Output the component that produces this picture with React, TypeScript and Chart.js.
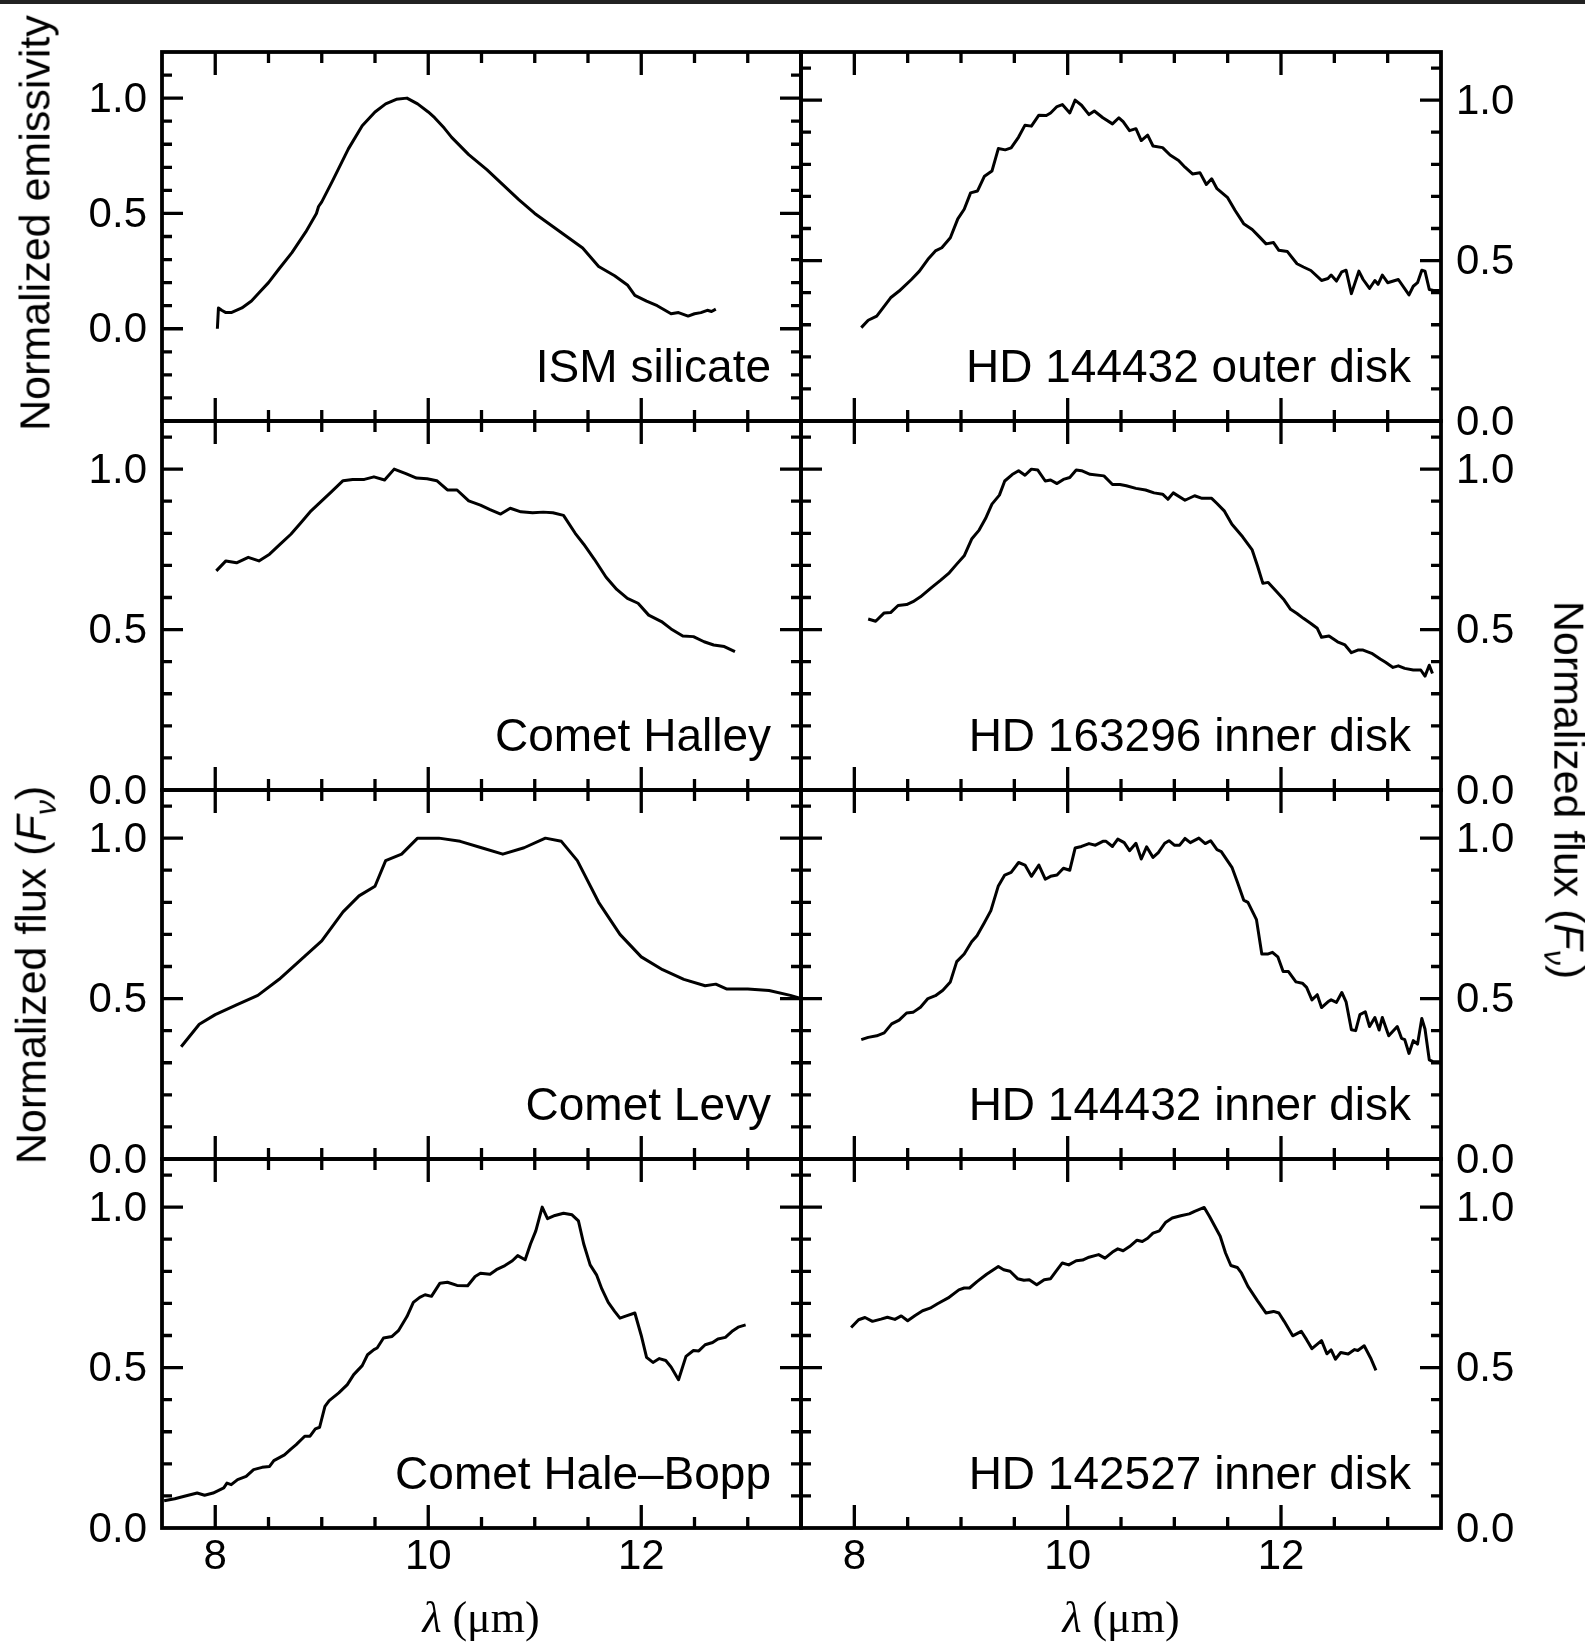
import React, { useEffect, useRef } from 'react';
import { Chart, registerables } from 'chart.js';

Chart.register(...registerables);

// ---------------- data ----------------
const ismWave = [8.02, 8.03, 8.06, 8.1, 8.15, 8.25, 8.34, 8.42, 8.5, 8.6, 8.72, 8.85, 8.95, 8.97, 9.0, 9.1, 9.25, 9.38, 9.5, 9.6, 9.7, 9.8, 9.9, 10.0, 10.06, 10.15, 10.22, 10.38, 10.55, 10.7, 10.85, 11.0, 11.15, 11.3, 11.45, 11.6, 11.75, 11.87, 11.94, 12.05, 12.15, 12.28, 12.35, 12.44, 12.5, 12.56, 12.62, 12.66, 12.7];
const ismValue = [0.0, 0.09, 0.08, 0.07, 0.07, 0.09, 0.12, 0.16, 0.2, 0.26, 0.33, 0.42, 0.5, 0.53, 0.55, 0.64, 0.78, 0.88, 0.94, 0.975, 0.995, 1.0, 0.975, 0.94, 0.915, 0.87, 0.83, 0.755, 0.69, 0.625, 0.56, 0.5, 0.45, 0.4, 0.35, 0.27, 0.23, 0.19, 0.145, 0.12, 0.1, 0.065, 0.07, 0.055, 0.065, 0.07, 0.08, 0.075, 0.085];

const hd144432OuterWave = [8.065, 8.13, 8.21, 8.34, 8.42, 8.535, 8.61, 8.69, 8.76, 8.82, 8.9, 8.97, 9.03, 9.09, 9.155, 9.22, 9.29, 9.35, 9.415, 9.47, 9.54, 9.6, 9.66, 9.73, 9.8, 9.84, 9.9, 9.95, 10.02, 10.07, 10.13, 10.2, 10.25, 10.33, 10.42, 10.48, 10.52, 10.58, 10.64, 10.69, 10.75, 10.8, 10.89, 10.96, 11.04, 11.1, 11.17, 11.24, 11.3, 11.35, 11.4, 11.5, 11.57, 11.65, 11.73, 11.8, 11.86, 11.93, 11.98, 12.06, 12.15, 12.21, 12.28, 12.38, 12.44, 12.47, 12.52, 12.57, 12.61, 12.66, 12.73, 12.77, 12.83, 12.88, 12.91, 12.95, 13.0, 13.1, 13.2, 13.24, 13.28, 13.32, 13.35, 13.39, 13.43, 13.49];
const hd144432OuterValue = [0.291, 0.314, 0.327, 0.384, 0.405, 0.441, 0.467, 0.504, 0.53, 0.54, 0.571, 0.63, 0.66, 0.711, 0.717, 0.763, 0.779, 0.849, 0.845, 0.851, 0.885, 0.922, 0.919, 0.953, 0.952, 0.96, 0.98, 0.986, 0.96, 1.0, 0.984, 0.955, 0.966, 0.945, 0.926, 0.945, 0.933, 0.905, 0.911, 0.874, 0.891, 0.857, 0.852, 0.829, 0.812, 0.791, 0.77, 0.774, 0.737, 0.755, 0.724, 0.696, 0.656, 0.615, 0.597, 0.573, 0.552, 0.556, 0.532, 0.528, 0.49, 0.48, 0.469, 0.438, 0.444, 0.455, 0.436, 0.465, 0.47, 0.397, 0.467, 0.441, 0.413, 0.438, 0.426, 0.455, 0.431, 0.441, 0.393, 0.42, 0.431, 0.47, 0.467, 0.41, 0.407, 0.407];

const halleyWave = [8.01, 8.1, 8.2, 8.31, 8.41, 8.51, 8.61, 8.71, 8.8, 8.9, 8.99, 9.09, 9.2, 9.29, 9.4, 9.49, 9.59, 9.68, 9.79, 9.89, 9.99, 10.08, 10.18, 10.27, 10.38, 10.49, 10.58, 10.68, 10.77, 10.87, 10.98, 11.08, 11.17, 11.27, 11.38, 11.46, 11.56, 11.67, 11.77, 11.87, 11.97, 12.07, 12.19, 12.28, 12.39, 12.49, 12.59, 12.68, 12.78, 12.88];
const halleyValue = [0.683, 0.714, 0.708, 0.725, 0.714, 0.735, 0.766, 0.797, 0.831, 0.87, 0.898, 0.929, 0.964, 0.968, 0.968, 0.976, 0.966, 1.0, 0.986, 0.972, 0.97, 0.964, 0.935, 0.935, 0.901, 0.888, 0.874, 0.86, 0.878, 0.867, 0.864, 0.866, 0.864, 0.856, 0.8, 0.766, 0.719, 0.663, 0.625, 0.597, 0.582, 0.545, 0.525, 0.502, 0.48, 0.478, 0.462, 0.452, 0.447, 0.431];

const hd163296Wave = [8.13, 8.2, 8.28, 8.34, 8.41, 8.49, 8.55, 8.62, 8.72, 8.81, 8.89, 8.96, 9.03, 9.1, 9.17, 9.23, 9.29, 9.36, 9.41, 9.48, 9.54, 9.6, 9.66, 9.72, 9.79, 9.84, 9.9, 9.96, 10.02, 10.08, 10.13, 10.21, 10.34, 10.42, 10.49, 10.55, 10.64, 10.73, 10.81, 10.89, 10.94, 10.99, 11.1, 11.19, 11.26, 11.35, 11.4, 11.47, 11.54, 11.64, 11.73, 11.78, 11.83, 11.88, 11.96, 12.03, 12.09, 12.15, 12.21, 12.28, 12.34, 12.38, 12.45, 12.53, 12.6, 12.66, 12.72, 12.77, 12.85, 12.93, 12.98, 13.05, 13.1, 13.16, 13.24, 13.31, 13.35, 13.39, 13.42];
const hd163296Value = [0.533, 0.526, 0.552, 0.553, 0.575, 0.578, 0.587, 0.602, 0.63, 0.654, 0.677, 0.704, 0.73, 0.782, 0.81, 0.846, 0.891, 0.919, 0.963, 0.983, 0.995, 0.981, 1.0, 0.997, 0.963, 0.966, 0.955, 0.968, 0.974, 0.997, 0.995, 0.984, 0.979, 0.952, 0.952, 0.948, 0.94, 0.935, 0.926, 0.922, 0.906, 0.926, 0.903, 0.917, 0.909, 0.909, 0.893, 0.869, 0.828, 0.789, 0.748, 0.698, 0.644, 0.647, 0.618, 0.592, 0.563, 0.55, 0.535, 0.519, 0.504, 0.476, 0.48, 0.462, 0.452, 0.428, 0.436, 0.436, 0.426, 0.408, 0.398, 0.382, 0.387, 0.379, 0.374, 0.374, 0.355, 0.389, 0.363];

const levyWave = [7.68, 7.85, 8.0, 8.2, 8.4, 8.6, 8.8, 9.0, 9.2, 9.35, 9.5, 9.6, 9.75, 9.9, 10.1, 10.3, 10.5, 10.7, 10.9, 11.1, 11.25, 11.4, 11.6, 11.8, 12.0, 12.2, 12.4, 12.6, 12.7, 12.8, 13.0, 13.2, 13.4, 13.5];
const levyValue = [0.35, 0.42, 0.45, 0.48, 0.51, 0.56, 0.62, 0.68, 0.77, 0.82, 0.85, 0.93, 0.95, 1.0, 1.0, 0.99, 0.97, 0.95, 0.97, 1.0, 0.99, 0.93, 0.8, 0.7, 0.63, 0.59, 0.56, 0.54, 0.545, 0.53, 0.53, 0.525, 0.51, 0.5];

const hd144432InnerWave = [8.065, 8.13, 8.21, 8.28, 8.35, 8.42, 8.49, 8.55, 8.62, 8.69, 8.76, 8.83, 8.9, 8.96, 9.03, 9.1, 9.15, 9.22, 9.28, 9.35, 9.41, 9.47, 9.54, 9.6, 9.66, 9.73, 9.79, 9.84, 9.9, 9.96, 10.02, 10.07, 10.13, 10.2, 10.26, 10.33, 10.36, 10.42, 10.47, 10.53, 10.58, 10.64, 10.69, 10.74, 10.8, 10.85, 10.91, 10.95, 11.0, 11.05, 11.1, 11.15, 11.23, 11.29, 11.34, 11.4, 11.44, 11.54, 11.59, 11.65, 11.69, 11.74, 11.77, 11.82, 11.88, 11.92, 11.97, 12.02, 12.07, 12.14, 12.2, 12.24, 12.29, 12.34, 12.38, 12.44, 12.47, 12.52, 12.57, 12.61, 12.66, 12.7, 12.74, 12.79, 12.83, 12.88, 12.92, 12.95, 13.01, 13.09, 13.13, 13.16, 13.2, 13.24, 13.28, 13.32, 13.35, 13.39, 13.43, 13.49];
const hd144432InnerValue = [0.372, 0.379, 0.384, 0.393, 0.421, 0.433, 0.455, 0.457, 0.473, 0.5, 0.509, 0.526, 0.552, 0.615, 0.639, 0.677, 0.696, 0.737, 0.774, 0.851, 0.885, 0.893, 0.924, 0.916, 0.881, 0.916, 0.872, 0.881, 0.885, 0.906, 0.9, 0.969, 0.974, 0.983, 0.978, 0.99, 0.99, 0.974, 0.997, 0.986, 0.961, 0.984, 0.935, 0.973, 0.94, 0.955, 0.984, 0.992, 0.978, 0.978, 0.999, 0.986, 1.0, 0.983, 0.992, 0.964, 0.958, 0.909, 0.864, 0.807, 0.8, 0.766, 0.746, 0.639, 0.639, 0.644, 0.63, 0.584, 0.584, 0.552, 0.548, 0.535, 0.496, 0.512, 0.472, 0.49, 0.496, 0.488, 0.519, 0.49, 0.403, 0.4, 0.45, 0.459, 0.413, 0.441, 0.402, 0.441, 0.384, 0.413, 0.376, 0.372, 0.329, 0.369, 0.358, 0.438, 0.405, 0.309, 0.303, 0.303];

const haleBoppWave = [7.52, 7.62, 7.71, 7.83, 7.9, 7.98, 8.08, 8.11, 8.15, 8.21, 8.29, 8.36, 8.44, 8.51, 8.55, 8.65, 8.71, 8.76, 8.84, 8.89, 8.94, 8.98, 9.03, 9.07, 9.16, 9.24, 9.3, 9.38, 9.43, 9.49, 9.52, 9.58, 9.66, 9.72, 9.8, 9.86, 9.92, 9.97, 10.03, 10.11, 10.18, 10.27, 10.37, 10.44, 10.49, 10.58, 10.64, 10.72, 10.79, 10.84, 10.91, 10.96, 11.01, 11.07, 11.12, 11.19, 11.27, 11.35, 11.41, 11.46, 11.52, 11.58, 11.63, 11.69, 11.75, 11.8, 11.86, 11.94, 12.0, 12.05, 12.11, 12.17, 12.23, 12.28, 12.35, 12.42, 12.49, 12.54, 12.6, 12.67, 12.72, 12.79, 12.86, 12.91, 12.98];
const haleBoppValue = [0.085, 0.091, 0.099, 0.109, 0.102, 0.109, 0.125, 0.14, 0.135, 0.151, 0.161, 0.182, 0.189, 0.192, 0.21, 0.228, 0.246, 0.26, 0.286, 0.286, 0.309, 0.314, 0.379, 0.397, 0.421, 0.447, 0.478, 0.506, 0.54, 0.556, 0.561, 0.592, 0.597, 0.615, 0.659, 0.703, 0.719, 0.727, 0.722, 0.763, 0.766, 0.756, 0.755, 0.784, 0.794, 0.791, 0.805, 0.818, 0.833, 0.849, 0.836, 0.885, 0.926, 1.0, 0.964, 0.974, 0.981, 0.976, 0.957, 0.885, 0.82, 0.789, 0.745, 0.703, 0.675, 0.654, 0.661, 0.67, 0.6, 0.532, 0.516, 0.528, 0.522, 0.502, 0.462, 0.535, 0.553, 0.552, 0.571, 0.578, 0.589, 0.594, 0.615, 0.626, 0.633];

const hd142527Wave = [7.97, 8.04, 8.1, 8.17, 8.25, 8.31, 8.38, 8.44, 8.5, 8.57, 8.64, 8.71, 8.78, 8.88, 8.98, 9.03, 9.08, 9.15, 9.24, 9.35, 9.4, 9.46, 9.53, 9.59, 9.64, 9.71, 9.78, 9.84, 9.89, 9.95, 10.01, 10.08, 10.14, 10.2, 10.29, 10.35, 10.42, 10.47, 10.52, 10.58, 10.65, 10.7, 10.75, 10.8, 10.86, 10.92, 10.98, 11.06, 11.14, 11.19, 11.28, 11.33, 11.43, 11.48, 11.53, 11.59, 11.63, 11.69, 11.78, 11.86, 11.93, 11.98, 12.03, 12.11, 12.19, 12.24, 12.29, 12.38, 12.43, 12.47, 12.51, 12.56, 12.63, 12.69, 12.72, 12.78, 12.84, 12.89];
const hd142527Value = [0.625, 0.649, 0.656, 0.644, 0.651, 0.657, 0.65, 0.661, 0.646, 0.662, 0.677, 0.685, 0.699, 0.717, 0.742, 0.748, 0.748, 0.768, 0.791, 0.815, 0.805, 0.8, 0.777, 0.772, 0.774, 0.758, 0.774, 0.777, 0.8, 0.826, 0.82, 0.833, 0.835, 0.844, 0.852, 0.841, 0.86, 0.87, 0.864, 0.877, 0.897, 0.893, 0.903, 0.919, 0.926, 0.953, 0.966, 0.973, 0.979, 0.987, 0.999, 0.971, 0.909, 0.857, 0.818, 0.812, 0.794, 0.753, 0.708, 0.67, 0.675, 0.67, 0.644, 0.599, 0.613, 0.587, 0.559, 0.584, 0.543, 0.555, 0.526, 0.547, 0.542, 0.556, 0.553, 0.568, 0.53, 0.491];

const xMajorTicks = [8, 10, 12];
const xMinorTicks = [8.5, 9, 9.5, 10.5, 11, 11.5, 12.5, 13];
const yMajorTicks = [0, 0.5, 1.0];
const fluxMinorTicks = [0.1, 0.2, 0.3, 0.4, 0.6, 0.7, 0.8, 0.9, 1.1];
const emissivityMinorTicks = [-0.3, -0.2, -0.1, 0.1, 0.2, 0.3, 0.4, 0.6, 0.7, 0.8, 0.9, 1.1];
const xRange = [7.5, 13.5];
const fluxRange = [0, 1.15];
const emissivityRange = [-0.4, 1.2];

const panelLabels = [
  'ISM silicate', 'HD 144432 outer disk',
  'Comet Halley', 'HD 163296 inner disk',
  'Comet Levy', 'HD 144432 inner disk',
  'Comet Hale–Bopp', 'HD 142527 inner disk',
];

const panelSeries = [
  [ismWave, ismValue], [hd144432OuterWave, hd144432OuterValue],
  [halleyWave, halleyValue], [hd163296Wave, hd163296Value],
  [levyWave, levyValue], [hd144432InnerWave, hd144432InnerValue],
  [haleBoppWave, haleBoppValue], [hd142527Wave, hd142527Value],
];

// ---------------- layout ----------------
const COLS = [162, 801, 1441];
const ROWS = [52, 421, 790, 1159, 1528];
const SIDE = 170;
const VPAD = 50;
const XAXIS_H = 75;
const SANS = '"Liberation Sans", Arial, Helvetica, sans-serif';
const SERIF = '"Liberation Serif", "Times New Roman", serif';

const frameTicksPlugin = {
  id: 'frameTicks',
  afterDatasetsDraw(chart: any, _args: any, opts: any) {
    const { ctx, chartArea: a, scales } = chart;
    const xs = scales.x;
    const ys = scales.y;
    ctx.save();
    ctx.strokeStyle = '#000';
    ctx.lineCap = 'butt';
    ctx.lineWidth = 3.3;
    const drawX = (vals: number[], len: number) => {
      for (const v of vals) {
        const px = xs.getPixelForValue(v);
        ctx.beginPath();
        ctx.moveTo(px, a.top);
        ctx.lineTo(px, a.top + len);
        ctx.moveTo(px, a.bottom);
        ctx.lineTo(px, a.bottom - len);
        ctx.stroke();
      }
    };
    const drawY = (vals: number[], len: number) => {
      for (const v of vals) {
        const py = ys.getPixelForValue(v);
        ctx.beginPath();
        ctx.moveTo(a.left, py);
        ctx.lineTo(a.left + len, py);
        ctx.moveTo(a.right, py);
        ctx.lineTo(a.right - len, py);
        ctx.stroke();
      }
    };
    drawX(xMajorTicks, 23);
    drawX(xMinorTicks, 11);
    drawY(yMajorTicks.filter((v) => v > ys.min && v < ys.max), 21);
    drawY(opts.yMinor, 10);
    ctx.lineWidth = 3.8;
    ctx.strokeRect(a.left, a.top, a.right - a.left, a.bottom - a.top);
    ctx.fillStyle = '#000';
    ctx.font = `46px ${SANS}`;
    ctx.textAlign = 'right';
    ctx.textBaseline = 'alphabetic';
    ctx.fillText(opts.label, a.right - 30, a.bottom - 39);
    ctx.restore();
  },
};

type PanelProps = { index: number };

function Panel({ index }: PanelProps) {
  const ref = useRef<HTMLCanvasElement | null>(null);
  const col = index % 2;
  const row = Math.floor(index / 2);
  const panelL = COLS[col];
  const panelR = COLS[col + 1];
  const panelT = ROWS[row];
  const panelB = ROWS[row + 1];
  const isBottom = row === 3;
  const left = panelL - SIDE;
  const top = panelT - VPAD;
  const width = panelR - panelL + 2 * SIDE;
  const height = panelB - panelT + VPAD + (isBottom ? XAXIS_H : VPAD);

  useEffect(() => {
    const canvas = ref.current;
    if (!canvas) return;
    const [wave, value] = panelSeries[index];
    const yRange = index === 0 ? emissivityRange : fluxRange;
    const yMinor = index === 0 ? emissivityMinorTicks : fluxMinorTicks;
    const chart = new Chart(canvas, {
      type: 'line',
      data: {
        datasets: [
          {
            data: wave.map((x, i) => ({ x, y: value[i] })),
            borderColor: '#000',
            borderWidth: 3,
            borderJoinStyle: 'round',
            pointRadius: 0,
            tension: 0,
            fill: false,
          },
        ],
      },
      options: {
        responsive: false,
        animation: false,
        devicePixelRatio: 1,
        events: [],
        layout: {
          autoPadding: false,
          padding: {
            left: col === 0 ? 0 : SIDE,
            right: col === 1 ? 0 : SIDE,
            top: VPAD,
            bottom: isBottom ? 0 : VPAD,
          },
        },
        plugins: {
          legend: { display: false },
          tooltip: { enabled: false },
          title: { display: false },
          frameTicks: { label: panelLabels[index], yMinor },
        } as any,
        scales: {
          x: {
            type: 'linear',
            min: xRange[0],
            max: xRange[1],
            display: isBottom,
            position: 'bottom',
            grid: { display: false, drawTicks: false },
            border: { display: false },
            afterBuildTicks: (s: any) => {
              s.ticks = xMajorTicks.map((v) => ({ value: v }));
            },
            afterFit: (s: any) => {
              if (isBottom) s.height = XAXIS_H;
            },
            ticks: {
              autoSkip: false,
              maxRotation: 0,
              padding: 4,
              color: '#000',
              font: { family: SANS, size: 42 },
              callback: (v: any) => String(v),
            },
          },
          y: {
            type: 'linear',
            min: yRange[0],
            max: yRange[1],
            display: true,
            position: col === 0 ? 'left' : 'right',
            grid: { display: false, drawTicks: false },
            border: { display: false },
            afterBuildTicks: (s: any) => {
              s.ticks = yMajorTicks.map((v) => ({ value: v }));
            },
            afterFit: (s: any) => {
              s.width = SIDE;
            },
            ticks: {
              padding: 15,
              labelOffset: 2,
              color: '#000',
              font: { family: SANS, size: 42 },
              callback: (v: any) => Number(v).toFixed(1),
            },
          },
        },
      },
      plugins: [frameTicksPlugin],
    } as any);
    return () => chart.destroy();
  }, [index]);

  return (
    <canvas
      ref={ref}
      width={width}
      height={height}
      style={{ position: 'absolute', left, top, width, height }}
    />
  );
}

export default function App() {
  const titleStyle: React.CSSProperties = {
    position: 'absolute',
    fontFamily: SANS,
    fontSize: 43,
    lineHeight: 1,
    whiteSpace: 'nowrap',
    color: '#000',
  };
  const xTitleStyle: React.CSSProperties = {
    position: 'absolute',
    fontFamily: SERIF,
    fontSize: 44,
    lineHeight: 1,
    whiteSpace: 'nowrap',
    color: '#000',
    transform: 'translate(-50%, -50%)',
  };
  return (
    <div
      style={{
        position: 'absolute',
        left: 0,
        top: 0,
        width: 1585,
        height: 1644,
        background: '#fff',
        overflow: 'hidden',
      }}
    >
      <div style={{ position: 'absolute', left: 0, top: 0, width: 1585, height: 4, background: '#222' }} />
      {panelLabels.map((_, i) => (
        <Panel key={i} index={i} />
      ))}
      <div style={{ ...titleStyle, left: 35, top: 223, transform: 'translate(-50%, -50%) rotate(-90deg)' }}>
        Normalized emissivity
      </div>
      <div style={{ ...titleStyle, left: 35, top: 975, transform: 'translate(-50%, -50%) rotate(-90deg)' }}>
        Normalized flux (<i>F</i>
        <sub style={{ fontSize: '0.7em', fontStyle: 'italic' }}>ν</sub>)
      </div>
      <div style={{ ...titleStyle, left: 1565, top: 790, transform: 'translate(-50%, -50%) rotate(90deg)' }}>
        Normalized flux (<i>F</i>
        <sub style={{ fontSize: '0.7em', fontStyle: 'italic' }}>ν</sub>)
      </div>
      <div style={{ ...xTitleStyle, left: 481, top: 1618 }}>
        <i>λ</i> (μm)
      </div>
      <div style={{ ...xTitleStyle, left: 1121, top: 1618 }}>
        <i>λ</i> (μm)
      </div>
    </div>
  );
}
